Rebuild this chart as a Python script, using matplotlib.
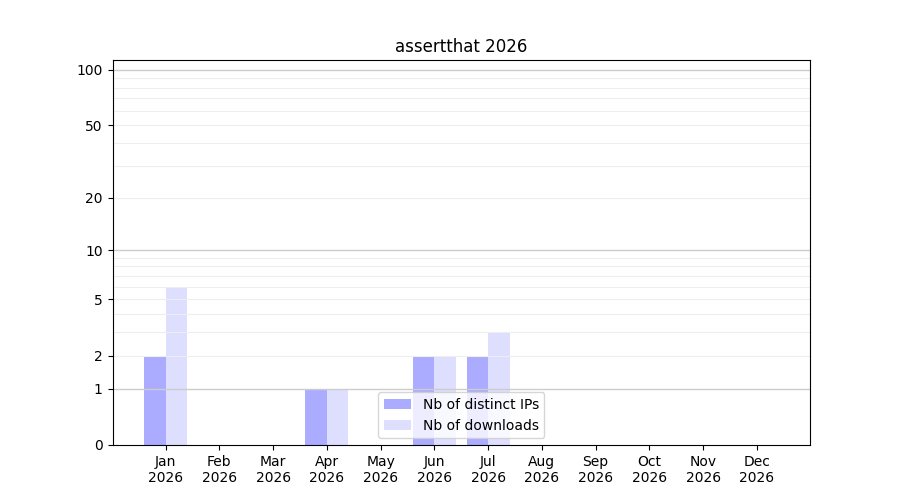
import numpy as np
import matplotlib
matplotlib.use("Agg")
import matplotlib.pyplot as plt

months = ["Jan", "Feb", "Mar", "Apr", "May", "Jun", "Jul", "Aug", "Sep", "Oct", "Nov", "Dec"]
year = "2026"
distinct_ips = [2, 0, 0, 1, 0, 2, 2, 0, 0, 0, 0, 0]
downloads = [6, 0, 0, 1, 0, 2, 3, 0, 0, 0, 0, 0]
ytick_vals = [0, 1, 2, 5, 10, 20, 50, 100]

fig, ax = plt.subplots(figsize=(9, 5), dpi=100)

ax.set_yscale("function", functions=(lambda v: np.log10(1 + np.maximum(v, 0)),
                                     lambda v: 10 ** v - 1))
x = np.arange(len(months))
w = 0.4
ax.bar(x - w / 2, distinct_ips, w, color="blue", alpha=0.33, label="Nb of distinct IPs", zorder=1)
ax.bar(x + w / 2, downloads, w, color="blue", alpha=0.13, label="Nb of downloads", zorder=1)

ax.set_ylim(0, 113)
for dec in [1, 10]:
    for m in range(2, 10):
        ax.axhline(m * dec, color="#eeeeee", lw=0.8, zorder=2)
for v in [1, 10, 100]:
    ax.axhline(v, color="#cccccc", lw=1, zorder=2)

ax.set_yticks(ytick_vals)
ax.set_yticklabels([str(v) for v in ytick_vals])
ax.minorticks_off()
ax.set_xticks(x)
ax.set_xticklabels([f"{m}\n{year}" for m in months])
ax.set_title("assertthat 2026")
ax.legend(loc="lower center")

fig.savefig("out.png")
